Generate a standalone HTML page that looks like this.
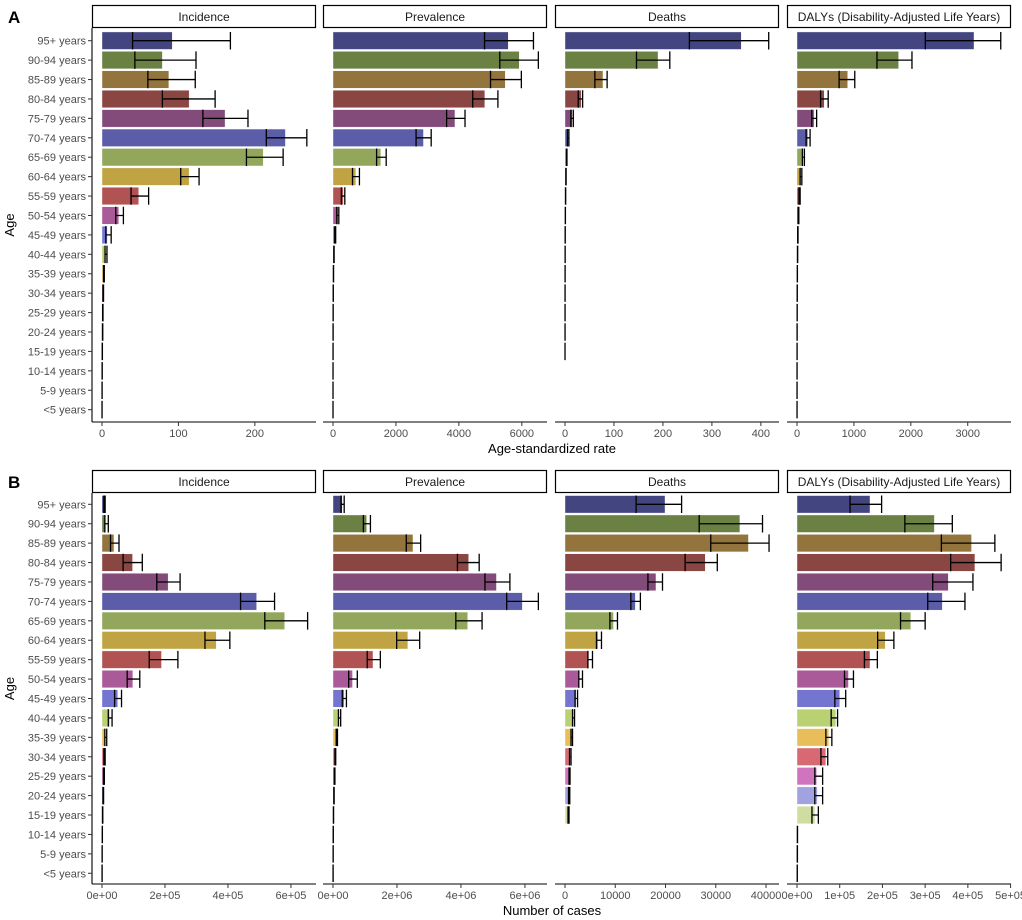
<!DOCTYPE html>
<html><head><meta charset="utf-8"><style>
html,body{margin:0;padding:0;background:#fff;}
svg{display:block;font-family:"Liberation Sans",Arial,sans-serif;}
</style></head><body>
<svg id="chart" width="1022" height="920" viewBox="0 0 1022 920" xmlns="http://www.w3.org/2000/svg"></svg>
<script>
const ages=["95+ years","90-94 years","85-89 years","80-84 years","75-79 years","70-74 years","65-69 years","60-64 years","55-59 years","50-54 years","45-49 years","40-44 years","35-39 years","30-34 years","25-29 years","20-24 years","15-19 years","10-14 years","5-9 years","<5 years"];
const colors=["#393b79","#637939","#8c6d31","#843c39","#7b4173","#5254a3","#8ca252","#bd9e39","#ad494a","#a55194","#6b6ecf","#b5cf6b","#e7ba52","#d6616b","#ce6dbd","#9c9ede","#cedb9c","#e7cb94","#e7969c","#de9ed6"];
const facets=["Incidence","Prevalence","Deaths","DALYs (Disability-Adjusted Life Years)"];
// Panel A: age-standardized rate
const aIncVal=[92,79,87.5,114,161,240,211,114,48,22,7,5,2.5,1.5,1,0.8,0.4,0.2,0.1,0.05];
const aIncLo=[40,43,60,79,132,215,189,103,38,18,5,4,2,1.2,0.8,0.6,0.3,0.15,0.08,0.04];
const aIncHi=[168,123,122,148,191,268,237,127,61,28,12,6.5,3,2,1.3,1,0.5,0.3,0.15,0.08];
const aPrevVal=[5570,5920,5475,4825,3875,2875,1520,725,330,165,70,30,15,8,5,3,2,1,0.5,0.2];
const aPrevLo=[4815,5300,5005,4440,3610,2640,1385,620,265,120,55,25,12,6,4,2,1.5,0.8,0.4,0.1];
const aPrevHi=[6370,6525,5985,5240,4195,3120,1690,840,375,185,85,36,18,10,6,4,2.5,1.2,0.6,0.3];
const aDeathVal=[360,190,77.5,33,15,7,3.5,2,1.2,0.7,0.4,0.3,0.2,0.15,0.1,0.08,0.05,null,null,null];
const aDeathLo=[254,146,61,27,12,5,3,1.7,1,0.6,0.3,0.25,0.15,0.1,0.08,0.06,0.04,null,null,null];
const aDeathHi=[416,214,86,36,17,8,4,2.3,1.4,0.8,0.5,0.35,0.25,0.18,0.12,0.1,0.06,null,null,null];
const aDalyVal=[3110,1785,890,478,300,190,110,70,45,25,15,10,6,4,3,2,1.5,1,0.8,0.6];
const aDalyLo=[2255,1405,740,414,260,160,95,55,35,20,12,8,5,3,2.5,1.5,1.2,0.8,0.6,0.5];
const aDalyHi=[3580,2020,1015,548,345,230,130,85,55,32,18,12,7,5,3.5,2.5,1.8,1.2,1,0.7];
// Panel B: number of cases
const bIncVal=[8000,12000,38000,97000,210000,491000,580000,363000,189000,98000,50000,25000,12000,8000,6000,4000,2000,1000,500,300];
const bIncLo=[6000,9000,27000,67000,174000,440000,517000,327000,150000,80000,40000,20000,9000,6000,4500,3000,1500,800,400,200];
const bIncHi=[10000,20000,54000,128000,248000,548000,653000,406000,241000,120000,62000,32000,15000,10000,7500,5000,2500,1200,600,400];
const bPrevVal=[290000,1050000,2500000,4240000,5110000,5920000,4210000,2340000,1250000,610000,350000,200000,120000,70000,50000,30000,15000,8000,5000,3000];
const bPrevLo=[250000,950000,2290000,3890000,4750000,5430000,3840000,1990000,1070000,490000,290000,170000,100000,60000,40000,25000,12000,6000,4000,2000];
const bPrevHi=[350000,1170000,2740000,4570000,5530000,6420000,4660000,2710000,1480000,760000,420000,240000,140000,85000,60000,36000,18000,10000,6000,4000];
const bDeathVal=[19900,34800,36500,27900,18100,14000,9650,6600,4750,2880,2200,1700,1300,1000,900,800,700,null,null,null];
const bDeathLo=[14150,26700,29000,23900,16500,13100,8930,6260,4550,2750,2000,1500,1200,900,800,700,600,null,null,null];
const bDeathHi=[23200,39300,40600,30300,19400,15000,10440,7260,5470,3480,2500,1900,1500,1200,1000,950,800,null,null,null];
const bDalyVal=[170900,321700,408600,416500,354300,340300,266400,206700,170900,120500,100000,91000,74600,67600,46000,47700,42000,1000,800,600];
const bDalyLo=[124200,252500,338000,359700,317700,306100,242400,188800,157800,111200,88600,80000,67600,56000,41700,41700,35000,800,600,500];
const bDalyHi=[198100,363600,463200,477900,411900,393200,300000,226800,188100,132200,114000,95000,81600,72000,60000,60000,50000,1200,1000,700];
// Axis ticks
const aIncTicks=[0,100,200], aIncTickLabels=["0","100","200"];
const aPrevTicks=[0,2000,4000,6000], aPrevTickLabels=["0","2000","4000","6000"];
const aDeathTicks=[0,100,200,300,400], aDeathTickLabels=["0","100","200","300","400"];
const aDalyTicks=[0,1000,2000,3000], aDalyTickLabels=["0","1000","2000","3000"];
const bIncTicks=[0,200000,400000,600000], bIncTickLabels=["0e+00","2e+05","4e+05","6e+05"];
const bPrevTicks=[0,2000000,4000000,6000000], bPrevTickLabels=["0e+00","2e+06","4e+06","6e+06"];
const bDeathTicks=[0,10000,20000,30000,40000], bDeathTickLabels=["0","10000","20000","30000","40000"];
const bDalyTicks=[0,100000,200000,300000,400000,500000], bDalyTickLabels=["0e+00","1e+05","2e+05","3e+05","4e+05","5e+05"];
// Domains (max value at right panel edge)
const aDomains=[280,6800,437,3760];
const bDomains=[679600,6690000,42580,501000];

const NS="http://www.w3.org/2000/svg";
const svg=document.getElementById('chart');
function mk(tag,attrs,parent){const e=document.createElementNS(NS,tag);for(const k in attrs)e.setAttribute(k,attrs[k]);(parent||svg).appendChild(e);return e;}
const panelL=[92,323,555,787], panelW=224, zeroOff=10;

function drawSection(label,top,plotTop,plotBottom,row0,data,domains,ticks,tickLabels,xTitle){
  const g=mk('g',{});
  
  
  const L=mk('text',{x:8,y:top+18,'font-size':17,'font-weight':'bold',fill:'#000'},g);
  L.textContent=label;
  
  
  const step=19.42;
  const yPos=i=>row0+i*step;
  // y axis
  const ya=mk('line',{x1:92,x2:92,y1:plotTop,y2:plotBottom,stroke:'#000','stroke-width':1.1},g);
  
  
  ages.forEach((a,i)=>{
    const y=yPos(i);
    mk('line',{x1:88,x2:92,y1:y,y2:y,stroke:'#333','stroke-width':1},g);
    const t=mk('text',{x:86,y:y+4,'font-size':11,'text-anchor':'end',fill:'#4d4d4d'},g);
    t.textContent=a;
    
    
  });
  const yt=mk('text',{x:0,y:0,'font-size':13,'text-anchor':'middle',fill:'#000',transform:`translate(14,${(plotTop+plotBottom)/2}) rotate(-90)`},g);
  yt.textContent='Age';
  
  
  for(let p=0;p<4;p++){
    const px=panelL[p];
    const x0=px+zeroOff, x1=px+panelW;
    const sx=v=>x0+(v/domains[p])*(x1-x0);
    const pg=mk('g',{},g);
    
    
    const sr=mk('rect',{x:px+0.5,y:top+0.5,width:panelW-1,height:22,fill:'#fff',stroke:'#000','stroke-width':1.2},pg);
    
    
    const st=mk('text',{x:px+panelW/2,y:top+16,'font-size':12,'text-anchor':'middle',fill:'#1a1a1a'},pg);
    st.textContent=facets[p];
    
    
    const [vals,lo,hi]=data[p];
    ages.forEach((a,i)=>{
      if(vals[i]==null)return;
      const y=yPos(i), h=17.5;
      const r=mk('rect',{x:x0,y:y-h/2,width:Math.max(0.6,sx(vals[i])-x0),height:h,fill:colors[i],'fill-opacity':0.95,stroke:'#fff','stroke-width':0.4},pg);
      
      
      const xl=sx(lo[i]), xh=sx(hi[i]);
      const eb=mk('path',{d:`M${xl},${y-h/2}V${y+h/2}M${xl},${y}H${xh}M${xh},${y-h/2}V${y+h/2}`,stroke:'#000','stroke-width':1.3,fill:'none'},pg);
      
      
    });
    const xa=mk('line',{x1:px,x2:x1,y1:plotBottom,y2:plotBottom,stroke:'#000','stroke-width':1.1},pg);
    
    
    ticks[p].forEach((tv,k)=>{
      const x=sx(tv);
      mk('line',{x1:x,x2:x,y1:plotBottom,y2:plotBottom+4,stroke:'#333','stroke-width':1},pg);
      const t=mk('text',{x:x,y:plotBottom+15,'font-size':11,'text-anchor':'middle',fill:'#4d4d4d'},pg);
      t.textContent=tickLabels[p][k];
      
      
    });
  }
  const xt=mk('text',{x:552,y:plotBottom+31,'font-size':13,'text-anchor':'middle',fill:'#000'},g);
  xt.textContent=xTitle;
  
  
}
drawSection('A',5,28,422,40.7,
  [[aIncVal,aIncLo,aIncHi],[aPrevVal,aPrevLo,aPrevHi],[aDeathVal,aDeathLo,aDeathHi],[aDalyVal,aDalyLo,aDalyHi]],
  aDomains,[aIncTicks,aPrevTicks,aDeathTicks,aDalyTicks],[aIncTickLabels,aPrevTickLabels,aDeathTickLabels,aDalyTickLabels],'Age-standardized rate');
drawSection('B',470,493,884,504.3,
  [[bIncVal,bIncLo,bIncHi],[bPrevVal,bPrevLo,bPrevHi],[bDeathVal,bDeathLo,bDeathHi],[bDalyVal,bDalyLo,bDalyHi]],
  bDomains,[bIncTicks,bPrevTicks,bDeathTicks,bDalyTicks],[bIncTickLabels,bPrevTickLabels,bDeathTickLabels,bDalyTickLabels],'Number of cases');
</script>
</body></html>
